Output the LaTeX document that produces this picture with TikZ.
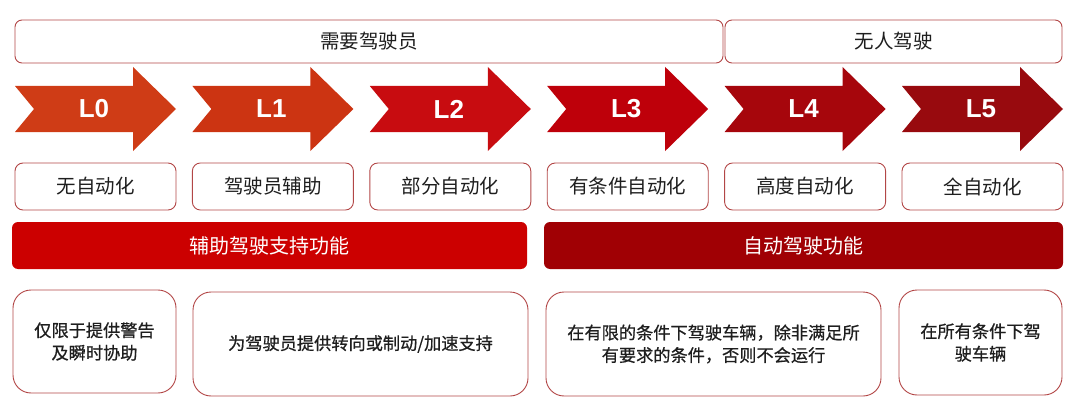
\documentclass[tikz,border=0pt]{standalone}
\usepackage{fontspec}
\setmainfont{Liberation Sans}
\newfontfamily\cjk{Noto Sans CJK SC}
\newfontfamily\cjkheavy[FakeBold=0.7]{Noto Sans CJK SC}
\usetikzlibrary{positioning}
\definecolor{lvzero}{RGB}{207,60,22}
\definecolor{lvone}{RGB}{204,52,18}
\definecolor{lvtwo}{RGB}{200,12,16}
\definecolor{lvthree}{RGB}{190,0,10}
\definecolor{lvfour}{RGB}{166,6,12}
\definecolor{lvfive}{RGB}{152,10,14}
\definecolor{barred}{RGB}{204,0,0}
\definecolor{bardark}{RGB}{160,0,4}
\definecolor{edgered}{RGB}{178,70,70}
\definecolor{inkgray}{RGB}{30,30,30}

\begin{document}
\begin{tikzpicture}[x=1pt,y=-1pt,
  groupbox/.style={draw=edgered,line width=0.9pt,rounded corners=7pt,
    text=inkgray,font=\cjk\fontsize{19.5}{22}\selectfont,inner sep=0pt},
  lvbox/.style={draw=edgered,line width=0.9pt,rounded corners=8pt,
    minimum width=161,minimum height=47,inner sep=0pt,
    text=inkgray,font=\cjk\fontsize{19.5}{22}\selectfont},
  lvlabel/.style={text=white,font=\bfseries\fontsize{26}{28}\selectfont,inner sep=0pt},
  funcbar/.style={rounded corners=6pt,minimum height=47,inner sep=0pt,
    text=white,font=\cjk\fontsize{20}{22}\selectfont},
  descbox/.style={draw=edgered,line width=0.9pt,rounded corners=18pt,
    inner sep=0pt,align=center,text=inkgray,
    font=\cjkheavy\fontsize{17.2}{22.5}\selectfont}
]
  \useasboundingbox (0,0) rectangle (1080,412);

  % driver needed / driverless
  \node[groupbox,minimum width=708,minimum height=43] (needdriver) at (369,41.5) {需要驾驶员};
  \node[groupbox,minimum width=337,minimum height=43] (nodriver) at (893.5,41.5) {无人驾驶};

  % level arrows and level names
  \foreach \i/\col/\txt in {0/lvzero/无自动化,1/lvone/驾驶员辅助,2/lvtwo/部分自动化,
      3/lvthree/有条件自动化,4/lvfour/高度自动化,5/lvfive/全自动化}{
    \pgfmathsetmacro\x{15+177.4*\i}
    \fill[\col] (\x,86) -- (\x+118,86) -- (\x+118,67) -- (\x+161,109)
      -- (\x+118,151) -- (\x+118,132) -- (\x,132) -- (\x+19,109) -- cycle;
    \node[lvlabel] (L\i) at (\x+79,109) {L\i};
    \node[lvbox] (name\i) at (\x+80.5,186.5) {\txt};
  }

  % function bars
  \node[funcbar,fill=barred,minimum width=515] (assist) at (269.5,245.5) {辅助驾驶支持功能};
  \node[funcbar,fill=bardark,minimum width=519] (autodrive) at (803.5,245.5) {自动驾驶功能};

  % descriptions
  \node[descbox,minimum width=163,minimum height=103] (descA) at (94.5,341.5)
    {仅限于提供警告\\及瞬时协助};
  \node[descbox,minimum width=335,minimum height=104] (descB) at (360.5,344)
    {为驾驶员提供转向或制动/加速支持};
  \node[descbox,minimum width=335,minimum height=104] (descC) at (713.5,344)
    {在有限的条件下驾驶车辆，除非满足所\\有要求的条件，否则不会运行};
  \node[descbox,minimum width=163,minimum height=105] (descD) at (980.5,342.5)
    {在所有条件下驾\\驶车辆};
\end{tikzpicture}
\end{document}
